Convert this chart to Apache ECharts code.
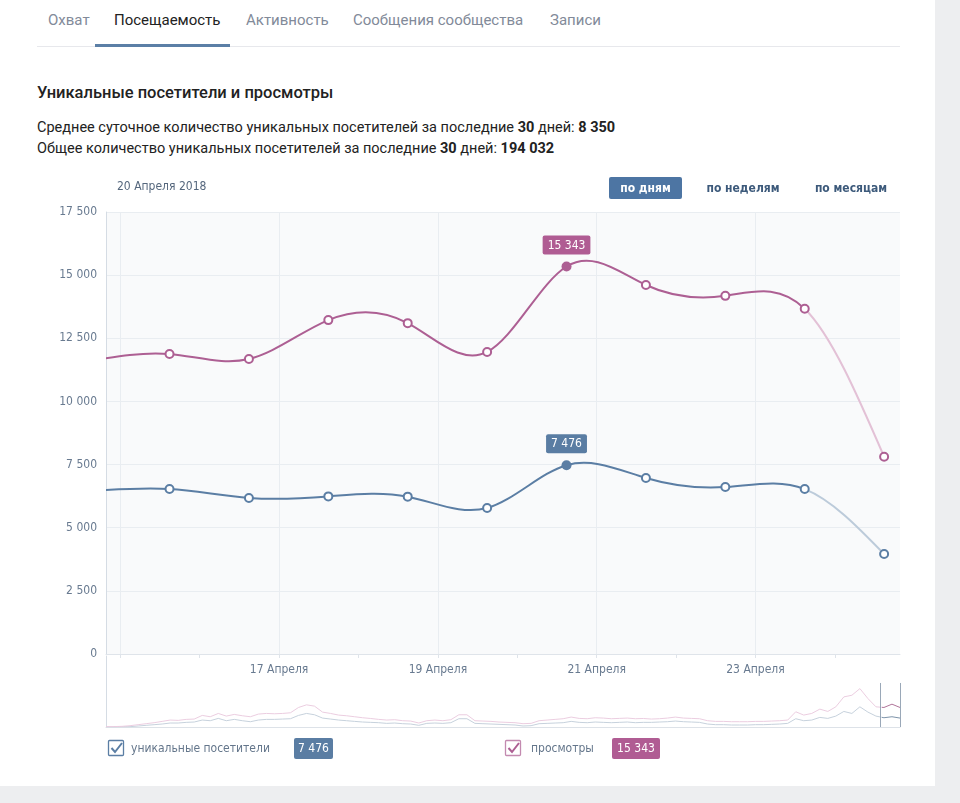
<!DOCTYPE html>
<html><head><meta charset="utf-8">
<script src="https://cdn.jsdelivr.net/npm/echarts@6/dist/echarts.min.js"></script>
<style>
html,body{margin:0;padding:0;background:#edeef0;width:960px;height:803px;overflow:hidden;}
#card{position:absolute;left:0;top:0;width:935px;height:786px;background:#fff;}
.t{position:absolute;white-space:nowrap;font-family:Roboto,"Noto Sans",sans-serif;}
.tab{top:10px;font-size:15px;color:#828a99;line-height:20px;}
.tab.on{color:#222;}
#uline{position:absolute;left:95px;top:44px;width:135px;height:3px;background:#5b7fa6;}
#sep{position:absolute;left:37px;top:46px;width:863px;height:1px;background:#e7e8ec;}
.title{left:37px;top:82px;font-size:16.5px;font-weight:500;color:#222;line-height:22px;}
.st{left:37px;font-size:14.5px;color:#222;line-height:20px;}
.st b{font-weight:700;}
#chart{position:absolute;left:0;top:0;width:960px;height:803px;}
</style></head>
<body>
<div id="card"></div>
<div class="t tab" style="left:48px">Охват</div>
<div class="t tab on" style="left:114px">Посещаемость</div>
<div class="t tab" style="left:246px">Активность</div>
<div class="t tab" style="left:353px">Сообщения сообщества</div>
<div class="t tab" style="left:550px">Записи</div>
<div id="sep"></div><div id="uline"></div>
<div class="t title">Уникальные посетители и просмотры</div>
<div class="t st" style="top:118px">Среднее суточное количество уникальных посетителей за последние <b>30</b> дней: <b>8 350</b></div>
<div class="t st" style="top:139px">Общее количество уникальных посетителей за последние <b>30</b> дней: <b>194 032</b></div>
<div id="chart"></div>
<script>
// ---- data ----
const days = [0, 1, 2, 3, 4, 5, 6, 7, 8, 9, 10]; // 14..24 Апреля
const dayNames = ['14 Апреля 2018','15 Апреля 2018','16 Апреля 2018','17 Апреля 2018','18 Апреля 2018','19 Апреля 2018','20 Апреля 2018','21 Апреля 2018','22 Апреля 2018','23 Апреля 2018','24 Апреля 2018'];
const visitors = [6450, 6530, 6180, 6240, 6230, 5780, 7476, 6970, 6610, 6530, 3960];
const views = [11600, 11880, 11680, 13220, 13100, 11960, 15343, 14610, 14180, 13670, 7810];
const selectedIndex = 6;
const lastCompleteIndex = 9;
const xLabelValues = [2.38, 4.38, 6.38, 8.38];
const xLabels = ['17 Апреля', '19 Апреля', '21 Апреля', '23 Апреля'];
const xGridValues = [0.38, 2.38, 4.38, 6.38, 8.38];
const xDayTicks = [0.38, 1.38, 2.38, 3.38, 4.38, 5.38, 6.38, 7.38, 8.38, 9.38];
const yMax = 17500, yStep = 2500;
const periodButtons = ['по дням', 'по неделям', 'по месяцам'];
const legendNames = ['уникальные посетители', 'просмотры'];
// minimap (whole period overview)
const miniViews = [200,300,470,930,1630,2330,3030,3960,4890,4660,5360,5590,8160,7220,9550,7690,8850,7920,7220,9090,9550,9320,9550,10020,13750,15610,14680,10490,9550,8390,7920,7220,6520,6000,5360,4890,5130,4430,4190,2800,4430,4890,4430,5130,8620,8620,4430,4190,3960,3500,3260,3030,2330,2560,4430,4890,5360,5830,6990,6060,5830,6520,6290,5830,6060,6290,5830,6000,5590,5830,6290,6990,6290,6060,5830,4430,3960,3960,3730,3730,3730,3960,3960,4190,4430,4890,10720,8390,9550,12580,10950,14210,21200,22370,27030,20040,14210,13750,16080,13750];
const miniVisitors = [100,100,200,230,700,1170,1630,2100,2800,2800,3260,3500,4890,4430,6060,4430,5360,4430,3730,4890,5360,5360,5590,5830,8160,9550,8620,6290,5590,4890,4430,3960,3500,3260,3030,2560,2800,2330,2100,1170,2560,2800,2560,3030,5830,5830,2560,2330,2100,1860,1630,1400,700,930,2330,2560,2800,3030,3960,3260,3030,3500,3260,3030,3260,3500,3030,3260,3260,3500,3730,4190,3730,3500,3260,2100,1630,1630,1400,1400,1400,1630,1630,1860,2100,2560,5830,4430,4890,6760,6060,7690,10950,9550,14210,10490,7690,6520,7220,6290];
const miniWindowStart = 96.5;
const miniMax = 50000;

// ---- styles ----
const pink = '#ad5f93', pinkLight = '#e3c1d6', pinkBox = '#b05c93';
const blue = '#5b7ea4', blueLight = '#bccbda', blueBox = '#5a7da3';
const fmt = v => String(v).replace(/\B(?=(\d{3})+(?!\d))/g, ' ');
const axisFont = '"DejaVu Sans Condensed", "DejaVu Sans", Verdana, sans-serif';
const axisColor = '#687a90';

function splitGradient(dark, light, f) {
  return new echarts.graphic.LinearGradient(0, 0, 1, 0, [
    {offset: 0, color: dark}, {offset: f, color: dark},
    {offset: f, color: light}, {offset: 1, color: light}]);
}
const fMini = miniWindowStart / (miniViews.length - 1);

// natural cubic spline second derivatives
function splineM(xs, ys) {
  const n = xs.length, M = new Array(n).fill(0);
  if (n < 3) return M;
  const a = [], b = [], c = [], d = [];
  for (let i = 1; i < n - 1; i++) {
    const h0 = xs[i] - xs[i - 1], h1 = xs[i + 1] - xs[i];
    a.push(h0); b.push(2 * (h0 + h1)); c.push(h1);
    d.push(6 * ((ys[i + 1] - ys[i]) / h1 - (ys[i] - ys[i - 1]) / h0));
  }
  const m = b.length, cp = [], dp = [];
  cp[0] = c[0] / b[0]; dp[0] = d[0] / b[0];
  for (let i = 1; i < m; i++) {
    const den = b[i] - a[i] * cp[i - 1];
    cp[i] = c[i] / den; dp[i] = (d[i] - a[i] * dp[i - 1]) / den;
  }
  const sol = new Array(m);
  sol[m - 1] = dp[m - 1];
  for (let i = m - 2; i >= 0; i--) sol[i] = dp[i] - cp[i] * sol[i + 1];
  for (let i = 0; i < m; i++) M[i + 1] = sol[i];
  return M;
}

function splineRenderer(vals, dark, light) {
  const M = splineM(days, vals);
  return function (params, api) {
    if (params.dataIndex !== 0) return null;
    let dDark = '', dLight = '';
    for (let i = 0; i < days.length - 1; i++) {
      const x0 = days[i], x1 = days[i + 1], y0 = vals[i], y1 = vals[i + 1], h = x1 - x0;
      const s0 = (y1 - y0) / h - h * (2 * M[i] + M[i + 1]) / 6;
      const s1 = (y1 - y0) / h + h * (M[i] + 2 * M[i + 1]) / 6;
      const p0 = api.coord([x0, y0]);
      const c1 = api.coord([x0 + h / 3, y0 + s0 * h / 3]);
      const c2 = api.coord([x1 - h / 3, y1 - s1 * h / 3]);
      const p1 = api.coord([x1, y1]);
      const seg = 'M' + p0.join(',') + ' C' + c1.join(',') + ' ' + c2.join(',') + ' ' + p1.join(',') + ' ';
      if (i < lastCompleteIndex) dDark += seg; else dLight += seg;
    }
    return {type: 'group', children: [
      {type: 'path', shape: {pathData: dDark}, style: {stroke: dark, lineWidth: 2, fill: 'none'}},
      {type: 'path', shape: {pathData: dLight}, style: {stroke: light, lineWidth: 2, fill: 'none'}}
    ]};
  };
}

function mainData(vals, color, box) {
  return days.map((d, i) => {
    if (i === selectedIndex) {
      return {value: [d, vals[i]], symbol: 'circle', symbolSize: 10,
        itemStyle: {color: color, borderWidth: 0},
        label: {show: true, position: 'top', distance: 7, formatter: p => fmt(p.value[1]),
          backgroundColor: box, color: '#fff', padding: [4, 5, 3, 5], borderRadius: 2,
          fontSize: 12, fontFamily: axisFont}};
    }
    return [d, vals[i]];
  });
}

const chart = echarts.init(document.getElementById('chart'), null, {renderer: 'canvas'});
const graphics = [
  {type: 'text', left: 117, top: 181, style: {text: dayNames[selectedIndex], font: '12px ' + axisFont, fill: '#55677d'}},
  {type: 'rect', shape: {x: 609, y: 177, width: 73, height: 22, r: 2}, style: {fill: '#4d75a3'}},
  {type: 'text', x: 645.5, y: 188.5, style: {text: periodButtons[0], font: 'bold 12px ' + axisFont, fill: '#fff', align: 'center', verticalAlign: 'middle'}},
  {type: 'text', x: 743, y: 188.5, style: {text: periodButtons[1], font: 'bold 12px ' + axisFont, fill: '#3d5a7b', align: 'center', verticalAlign: 'middle'}},
  {type: 'text', x: 851, y: 188.5, style: {text: periodButtons[2], font: 'bold 12px ' + axisFont, fill: '#3d5a7b', align: 'center', verticalAlign: 'middle'}},
  // legend
  {type: 'rect', shape: {x: 108.5, y: 740.5, width: 15, height: 15, r: 1}, style: {fill: '#fff', stroke: blue, lineWidth: 1.3}},
  {type: 'polyline', shape: {points: [[111.5, 748], [115, 752], [122, 743]]}, style: {stroke: blue, lineWidth: 2, fill: null}},
  {type: 'text', x: 131, y: 748.5, style: {text: legendNames[0], font: '12px ' + axisFont, fill: '#64768b', verticalAlign: 'middle'}},
  {type: 'rect', shape: {x: 294, y: 738, width: 39, height: 21, r: 2}, style: {fill: blueBox}},
  {type: 'text', x: 313.5, y: 748.5, style: {text: fmt(visitors[selectedIndex]), font: '12px ' + axisFont, fill: '#fff', align: 'center', verticalAlign: 'middle'}},
  {type: 'rect', shape: {x: 505.5, y: 740.5, width: 15, height: 15, r: 1}, style: {fill: '#fff', stroke: '#c38ab0', lineWidth: 1.3}},
  {type: 'polyline', shape: {points: [[508.5, 748], [512, 752], [519, 743]]}, style: {stroke: pink, lineWidth: 2, fill: null}},
  {type: 'text', x: 531, y: 748.5, style: {text: legendNames[1], font: '12px ' + axisFont, fill: '#64768b', verticalAlign: 'middle'}},
  {type: 'rect', shape: {x: 612, y: 738, width: 48, height: 21, r: 2}, style: {fill: pinkBox}},
  {type: 'text', x: 636, y: 748.5, style: {text: fmt(views[selectedIndex]), font: '12px ' + axisFont, fill: '#fff', align: 'center', verticalAlign: 'middle'}}
];

const option = {
  animation: false,
  graphic: graphics,
  grid: [
    {left: 106, right: 60, top: 212, bottom: 149, show: true, backgroundColor: '#f9fafb', borderWidth: 0},
    {left: 106, right: 60, top: 656, bottom: 76, show: false}
  ],
  xAxis: [
    {type: 'value', gridIndex: 0, min: 0.2, max: 10.2,
      axisLine: {show: true, lineStyle: {color: '#dfe4ea'}},
      axisTick: {show: false, customValues: xGridValues},
      splitLine: {show: true, lineStyle: {color: '#e9edf1'}},
      axisLabel: {customValues: xLabelValues, margin: 10, color: axisColor, fontSize: 12, fontFamily: axisFont,
        formatter: v => { let k = 0; xLabelValues.forEach((p, i) => { if (Math.abs(p - v) < Math.abs(xLabelValues[k] - v)) k = i; }); return xLabels[k]; }}},
    {type: 'value', gridIndex: 0, min: 0.2, max: 10.2, position: 'bottom',
      axisLine: {show: false}, splitLine: {show: false}, axisLabel: {show: false},
      axisTick: {show: true, customValues: xDayTicks, length: 4, inside: false, lineStyle: {color: '#dfe4ea'}}},
    {type: 'value', gridIndex: 1, min: 0, max: miniViews.length - 1, show: true,
      axisLine: {show: true, lineStyle: {color: '#dde2e8'}}, axisTick: {show: false}, axisLabel: {show: false}, splitLine: {show: false}}
  ],
  yAxis: [
    {type: 'value', gridIndex: 0, min: 0, max: yMax, interval: yStep,
      axisLine: {show: true, lineStyle: {color: '#d5dce4'}}, axisTick: {show: false},
      splitLine: {lineStyle: {color: '#e9edf1'}},
      axisLabel: {margin: 9, color: axisColor, fontSize: 12, fontFamily: axisFont, padding: [4, 0, 0, 0], formatter: v => fmt(v)}},
    {type: 'value', gridIndex: 1, min: 0, max: miniMax,
      axisLine: {show: true, lineStyle: {color: '#d5dce4'}}, axisTick: {show: false}, axisLabel: {show: false}, splitLine: {show: false}}
  ],
  series: [
    {type: 'custom', xAxisIndex: 0, yAxisIndex: 0, data: days.map((d, i) => [d, visitors[i]]),
      renderItem: splineRenderer(visitors, blue, blueLight), clip: true, silent: true, z: 2},
    {type: 'custom', xAxisIndex: 0, yAxisIndex: 0, data: days.map((d, i) => [d, views[i]]),
      renderItem: splineRenderer(views, pink, pinkLight), clip: true, silent: true, z: 2},
    {type: 'line', name: legendNames[0], xAxisIndex: 0, yAxisIndex: 0, data: mainData(visitors, blue, blueBox),
      symbol: 'emptyCircle', symbolSize: 8, showAllSymbol: true,
      itemStyle: {color: blue, borderWidth: 2},
      lineStyle: {opacity: 0}, emphasis: {disabled: true}, z: 3},
    {type: 'line', name: legendNames[1], xAxisIndex: 0, yAxisIndex: 0, data: mainData(views, pink, pinkBox),
      symbol: 'emptyCircle', symbolSize: 8, showAllSymbol: true,
      itemStyle: {color: pink, borderWidth: 2},
      lineStyle: {opacity: 0}, emphasis: {disabled: true}, z: 3},
    {type: 'line', xAxisIndex: 2, yAxisIndex: 1, data: miniVisitors.map((v, i) => [i, v]), symbol: 'none',
      lineStyle: {width: 1, color: splitGradient('#c6d1dc', '#7d93a9', fMini)}, emphasis: {disabled: true}},
    {type: 'line', xAxisIndex: 2, yAxisIndex: 1, data: miniViews.map((v, i) => [i, v]), symbol: 'none',
      lineStyle: {width: 1, color: splitGradient('#ebcde0', '#b07499', fMini)}, emphasis: {disabled: true},
      markLine: {silent: true, symbol: 'none', label: {show: false}, lineStyle: {color: '#9aa8b8', width: 1, type: 'solid'},
        data: [[{coord: [miniWindowStart, 0]}, {coord: [miniWindowStart, 31000]}],
               [{coord: [miniViews.length - 1, 0]}, {coord: [miniViews.length - 1, 31000]}]]}}
  ]
};
chart.setOption(option);
</script>
</body></html>
